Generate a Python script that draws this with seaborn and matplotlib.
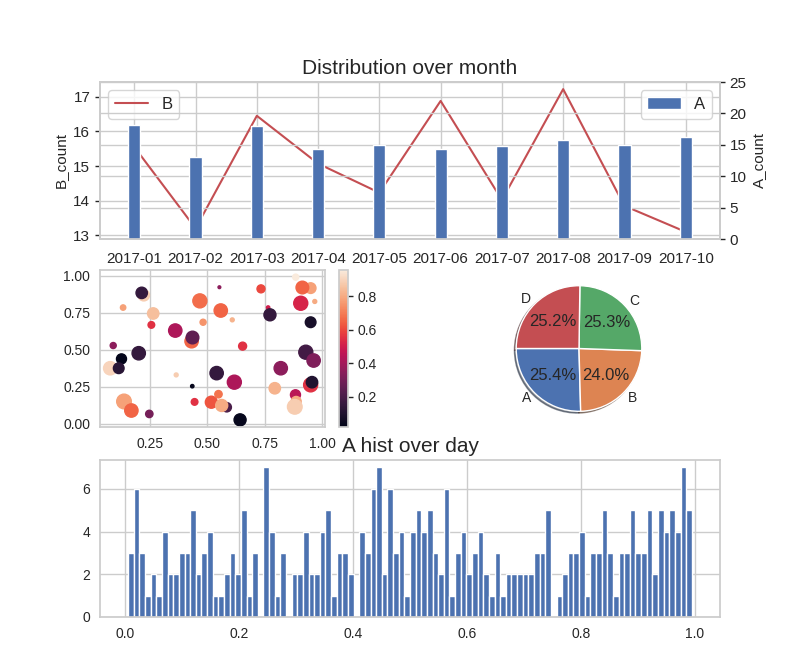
import numpy as np
import matplotlib
matplotlib.use("Agg")
import matplotlib.pyplot as plt
from matplotlib.ticker import MultipleLocator
import seaborn as sns

# monthly counts
months = ["2017-01", "2017-02", "2017-03", "2017-04", "2017-05",
          "2017-06", "2017-07", "2017-08", "2017-09", "2017-10"]
a_count = [18.15, 13.05, 18.05, 14.3, 15.0, 14.3, 14.85, 15.8, 15.0, 16.3]
b_count = [15.55, 13.2, 16.45, 15.07, 14.23, 16.88, 14.02, 17.22, 13.85, 13.1]

# scatter points
scatter_x = [0.223, 0.214, 0.133, 0.264, 0.256, 0.090, 0.201, 0.126, 0.077, 0.114,
             0.364, 0.434, 0.137, 0.169, 0.247, 0.444, 0.360, 0.431, 0.435, 0.467,
             0.481, 0.552, 0.558, 0.608, 0.653, 0.540, 0.617, 0.517, 0.548, 0.584,
             0.562, 0.642, 0.733, 0.764, 0.772, 0.884, 0.949, 0.913, 0.967, 0.906,
             0.949, 0.928, 0.962, 0.819, 0.793, 0.883, 0.949, 0.955, 0.886, 0.880]
scatter_y = [0.867, 0.883, 0.784, 0.744, 0.667, 0.528, 0.476, 0.438, 0.375, 0.375,
             0.330, 0.254, 0.151, 0.090, 0.067, 0.148, 0.629, 0.557, 0.582, 0.829,
             0.685, 0.921, 0.764, 0.701, 0.524, 0.342, 0.281, 0.146, 0.200, 0.112,
             0.124, 0.027, 0.910, 0.784, 0.735, 0.989, 0.915, 0.919, 0.825, 0.813,
             0.685, 0.483, 0.427, 0.375, 0.240, 0.196, 0.263, 0.281, 0.151, 0.115]
scatter_c = [0.88, 0.15, 0.78, 0.85, 0.55, 0.35, 0.15, 0.018, 0.90, 0.12,
             0.88, 0.03, 0.78, 0.65, 0.30, 0.55, 0.42, 0.65, 0.25, 0.67,
             0.75, 0.35, 0.65, 0.82, 0.55, 0.15, 0.42, 0.62, 0.68, 0.20,
             0.80, 0.03, 0.60, 0.50, 0.15, 0.957, 0.78, 0.65, 0.80, 0.52,
             0.08, 0.18, 0.32, 0.35, 0.82, 0.45, 0.55, 0.10, 0.80, 0.88]
scatter_s = [67, 67, 15, 67, 23, 19, 92, 52, 92, 59,
             8, 6, 111, 92, 28, 23, 92, 92, 83, 102,
             19, 4, 92, 8, 33, 92, 102, 75, 28, 45,
             75, 75, 33, 6, 75, 19, 59, 83, 8, 102,
             59, 102, 92, 92, 67, 52, 102, 67, 52, 111]

# pie
pie_labels = ["A", "B", "C", "D"]
pie_values = [25.4, 24.0, 25.3, 25.2]

# histogram counts, 100 bins
hist_counts = [3, 6, 3, 1, 2, 1, 4, 2, 2, 3,
               3, 5, 2, 3, 4, 1, 1, 2, 3, 2,
               5, 1, 3, 0, 7, 4, 1, 3, 0, 2,
               2, 4, 2, 2, 4, 5, 1, 3, 3, 2,
               0, 4, 3, 6, 7, 2, 6, 3, 4, 1,
               4, 5, 4, 5, 3, 2, 6, 1, 3, 4,
               2, 3, 4, 2, 1, 3, 1, 2, 2, 2,
               2, 2, 3, 3, 5, 0, 1, 2, 3, 3,
               4, 1, 3, 3, 5, 3, 1, 3, 3, 5,
               3, 3, 5, 2, 5, 4, 5, 4, 7, 5]
hist_range = (0.006, 0.995)

sns.set_theme(style="whitegrid")
plt.rcParams["font.family"] = ["Liberation Sans", "DejaVu Sans"]
plt.rcParams.update({
    "font.size": 12,
    "xtick.labelsize": 10,
    "ytick.labelsize": 10,
    "axes.labelsize": 11,
    "legend.fontsize": 12,
    "xtick.major.size": 3.5,
    "ytick.major.size": 3.5,
    "xtick.major.width": 1,
    "ytick.major.width": 1,
})

pal = sns.color_palette("deep")
blue, red = pal[0], pal[3]

fig = plt.figure(figsize=(8, 6.63), dpi=100)
rh = 157 / 663

# top: line + bars on twin axis
ax1 = fig.add_axes([0.125, 424 / 663, 0.775, rh])
x = np.arange(len(months))
sns.lineplot(x=x, y=b_count, ax=ax1, color=red, label="B")
ax1.legend(loc="upper left")
ax1.set_ylabel("B_count")
ax2 = ax1.twinx()
ax2.bar(x, a_count, width=0.2, color=blue, label="A")
ax2.set_ylim(0, 25)
ax2.set_ylabel("A_count")
ax2.legend(loc="upper right")
ax1.set_xticks(x, months)
ax1.yaxis.set_major_locator(MultipleLocator(1))
ax2.yaxis.set_major_locator(MultipleLocator(5))
ax1.tick_params(labelsize=11)
ax1.tick_params(axis="x", pad=6)
ax2.tick_params(labelsize=11)
ax1.set_title("Distribution over month", fontsize=15)

# middle left: scatter + colorbar
ax3 = fig.add_axes([0.125, 236 / 663, 225 / 800, rh])
sc = ax3.scatter(scatter_x, scatter_y, c=scatter_c, s=scatter_s,
                 cmap=sns.color_palette("rocket", as_cmap=True))
ax3.set_xticks([0.25, 0.5, 0.75, 1.0])
ax3.set_yticks([0.0, 0.25, 0.5, 0.75, 1.0])
cax = fig.add_axes([339 / 800, 236 / 663, 9 / 800, rh])
fig.colorbar(sc, cax=cax)

# middle right: pie
ax4 = fig.add_axes([438 / 800, 236 / 663, 282 / 800, rh])
ax4.pie(pie_values, labels=pie_labels, autopct="%1.1f%%", shadow=True,
        startangle=180, colors=pal[:4])
ax4.set_aspect("equal")

# bottom: histogram
ax5 = fig.add_axes([0.125, 46 / 663, 0.775, rh])
edges = np.linspace(hist_range[0], hist_range[1], len(hist_counts) + 1)
centers = (edges[:-1] + edges[1:]) / 2
sns.histplot(x=centers, weights=hist_counts, bins=len(hist_counts),
             binrange=hist_range, ax=ax5, color=blue, alpha=1,
             edgecolor="white", linewidth=1)
ax5.set_ylabel("")
ax5.set_title("A hist over day", fontsize=15)

fig.savefig("out.png", dpi=100)
